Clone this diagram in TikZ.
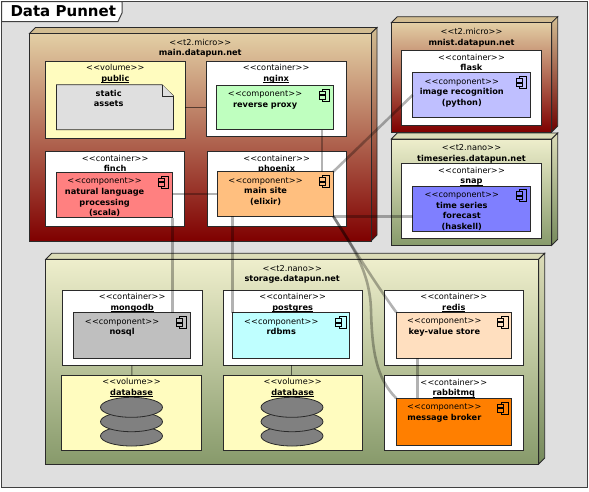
\documentclass[tikz,border=0pt]{standalone}
\usepackage{fontspec}
\setmainfont{DejaVu Sans}
\usetikzlibrary{calc,shapes.geometric}
\definecolor{bgc}{HTML}{DFDFDF}
\definecolor{edgec}{HTML}{2A2A2A}
\definecolor{tanA}{HTML}{E3CFA5}
\definecolor{tanB}{HTML}{D2BD92}
\definecolor{redB}{HTML}{7F0000}
\definecolor{redC}{HTML}{6E0000}
\definecolor{oliveA}{HTML}{EEEECC}
\definecolor{oliveB}{HTML}{879A6B}
\definecolor{oliveC}{HTML}{DCDCB8}
\definecolor{oliveD}{HTML}{768A5C}
\newcommand{\stereo}[1]{<\kern0.2pt<#1>\kern0.2pt>}
\newcommand{\ubf}[1]{\sbox0{\textbf{#1}}\rlap{\rule[-1.5pt]{\wd0}{0.8pt}}\box0}
\tikzset{
  x=1pt,y=-1pt,
  boxline/.style={draw=edgec,line width=0.8pt},
  box/.style={boxline,anchor=north west,inner sep=0pt,outer sep=0pt},
  whitebox/.style={box,fill=white},
  volbox/.style={box,fill=yellow!25!white},
  lab/.style={anchor=north,inner sep=0pt,outer sep=0pt,align=center,text=black,font=\fontsize{8.2}{10.6}\selectfont},
  maintanfront/.style={top color=tanA,bottom color=redB},
  maintanside/.style={top color=tanB,bottom color=redC},
  maintantop/.style={fill=tanB},
  olivefront/.style={top color=oliveA,bottom color=oliveB},
  oliveside/.style={top color=oliveC,bottom color=oliveD},
  olivetop/.style={fill=oliveC},
  conn/.style={draw=black,opacity=0.3,line width=2.6pt},
  thinconn/.style={draw=black,opacity=0.55,line width=1pt},
  disk/.style={boxline,fill=black!50!white,ellipse,inner sep=0pt,outer sep=0pt,minimum width=62pt,minimum height=20pt},
}
\newcommand{\plainbox}[6]{\node[#6,minimum width={(#4-#2)*1pt},minimum height={(#5-#3)*1pt}] (#1) at (#2,#3) {};}
\newcommand{\solidnode}[6]{%
  \path[boxline,#6top] (#2,#3) -- (#2+6,#3-6) -- (#4+6,#3-6) -- (#4,#3) -- cycle;
  \path[boxline,#6side] (#4,#3) -- (#4+6,#3-6) -- (#4+6,#5-6) -- (#4,#5) -- cycle;
  \node[box,#6front,minimum width={(#4-#2)*1pt},minimum height={(#5-#3)*1pt}] (#1) at (#2,#3) {};}
\newcommand{\lbl}[5]{\node[lab] (#1) at ([xshift=#4pt,yshift=-#3pt]#2.north) {\strut #5};}
\newcommand{\icon}[2]{%
  \begin{scope}[shift={(#1.north east)}]
  \draw[draw=black,line width=0.7pt,fill=#2] (-10.6,3.6) rectangle (-3.6,15.6);
  \draw[draw=black,line width=0.7pt,fill=#2] (-14,5.8) rectangle (-8.3,9.2);
  \draw[draw=black,line width=0.7pt,fill=#2] (-14,10.2) rectangle (-8.3,13.6);
  \end{scope}}
\newcommand{\component}[7]{%
  \definecolor{c#1}{HTML}{#6}%
  \plainbox{#1}{#2}{#3}{#4}{#5}{box,fill=c#1}
  \icon{#1}{c#1}
  \lbl{#1-t}{#1}{4.1}{-9.7}{\stereo{component}\\#7}}
\newcommand{\cont}[6]{%
  \plainbox{#1}{#2}{#3}{#4}{#5}{whitebox}
  \lbl{#1-t}{#1}{2.2}{0}{\stereo{container}\\\ubf{#6}}}
\newcommand{\vol}[6]{%
  \plainbox{#1}{#2}{#3}{#4}{#5}{volbox}
  \lbl{#1-t}{#1}{2.2}{0}{\stereo{volume}\\\ubf{#6}}}
\begin{document}
\begin{tikzpicture}
\useasboundingbox (0,0) rectangle (589,491);
\fill[white] (0,0) rectangle (589,491);
\draw[draw=black!75!white,line width=1pt,fill=bgc] (1.5,1.5) rectangle (587,487);
\draw[draw=black!75!white,line width=1pt,fill=white] (1.5,1.5) -- (122,1.5) -- (122,13) -- (118,21.5) -- (1.5,21.5) -- cycle;
\node[anchor=base west,inner sep=0pt,font=\fontsize{15}{16}\selectfont\bfseries] (title) at (10.3,16.5) {Data Punnet};

% main
\solidnode{main}{29.5}{33.5}{371}{241}{maintan}
\lbl{main-t}{main}{4.4}{0}{\stereo{t2.micro}\\\textbf{main.datapun.net}}
\vol{public}{45.7}{61}{185}{138.7}{public}
\plainbox{file}{56.5}{84.7}{173.5}{129.7}{anchor=north west,inner sep=0pt,outer sep=0pt}
\path[boxline,fill=bgc] (file.north west) -- (162,84.7) -- (173.5,96) -- (file.south east) -- (file.south west) -- cycle;
\path[boxline,fill=bgc] (162,84.7) -- (162,96) -- (173.5,96);
\node[lab] (file-t) at (108.7,88.6) {\strut\textbf{static}\\\textbf{assets}};
\cont{nginx}{206.3}{61}{346}{136.5}{nginx}
\component{proxy}{216.3}{85.3}{333.3}{129.7}{BFFFBF}{\textbf{reverse proxy}}
\cont{finch}{45.7}{151.7}{184.7}{226.3}{finch}
\component{nlp}{56.3}{172.3}{172.3}{217.7}{FF8080}{\textbf{natural language}\\\textbf{processing}\\\textbf{(scala)}}
\cont{phoenix}{207.3}{151.7}{346}{226.3}{phoenix}
\component{site}{217.3}{171.7}{333.3}{216.3}{FFBF7F}{\textbf{main site}\\\textbf{(elixir)}}

% mnist
\solidnode{mnist}{391.3}{22.7}{551.7}{132}{maintan}
\lbl{mnist-t}{mnist}{4.4}{0}{\stereo{t2.micro}\\\textbf{mnist.datapun.net}}
\cont{flask}{401.7}{50.7}{541.3}{125.3}{flask}
\component{imgrec}{412.7}{72.7}{530.3}{117.3}{BFBFFF}{\textbf{image recognition}\\\textbf{(python)}}

% timeseries
\solidnode{ts}{391.3}{139}{551.7}{245.3}{olive}
\lbl{ts-t}{ts}{4.4}{0}{\stereo{t2.nano}\\\textbf{timeseries.datapun.net}}
\cont{snap}{401.7}{163.7}{541.3}{238.3}{snap}
\component{forecast}{412.7}{186}{530.3}{231.7}{7F7FFF}{\textbf{time series}\\\textbf{forecast}\\\textbf{(haskell)}}

% storage
\solidnode{storage}{45.7}{259.3}{538.7}{464}{olive}
\lbl{storage-t}{storage}{4.4}{0}{\stereo{t2.nano}\\\textbf{storage.datapun.net}}
\cont{mongodb}{62.3}{290.3}{202}{365.3}{mongodb}
\component{nosql}{73.3}{312.7}{190.3}{358.3}{BFBFBF}{\textbf{nosql}}
\vol{dbA}{61.7}{375.3}{201.3}{450.7}{database}
\node[disk] (dbA3) at (131.5,436) {};
\node[disk] (dbA2) at (131.5,421.7) {};
\node[disk] (dbA1) at (131.5,407.3) {};
\cont{postgres}{223}{290.3}{362.3}{365.3}{postgres}
\component{rdbms}{232.3}{312.7}{349.7}{358.3}{BFFFFF}{\textbf{rdbms}}
\vol{dbB}{223}{375.3}{362.3}{450.7}{database}
\node[disk] (dbB3) at (292,436) {};
\node[disk] (dbB2) at (292,421.7) {};
\node[disk] (dbB1) at (292,407.3) {};
\cont{redis}{384.3}{290}{523.3}{365.3}{redis}
\component{kv}{396.3}{312.3}{511.7}{358.3}{FFDFBF}{\textbf{key-value store}}
\cont{rabbitmq}{384.3}{375.7}{523.3}{450.7}{rabbitmq}
\component{broker}{396.3}{398.3}{511.7}{445}{FF7F00}{\textbf{message broker}}

% connectors
\draw[thinconn] (public.east |- file.east) -- (nginx.west |- file.east);
\draw[thinconn] ([xshift=-.3pt]mongodb.south) -- ([xshift=.3pt]dbA.north);
\draw[thinconn] ([xshift=-1.3pt]postgres.south) -- ([xshift=-1.3pt]dbB.north);
\draw[conn] ([xshift=105.7pt]proxy.south west) -- ([xshift=104.7pt]site.north west);
\draw[conn] (site.north east) -- (imgrec.west);
\draw[conn] (nlp.east |- site.west) -- (site.west);
\draw[conn] (site.south east) -- (site.south east -| forecast.west);
\draw[conn] ([xshift=116.4pt]nlp.south west) -- ([xshift=99.4pt]nosql.north west);
\draw[conn] ([xshift=15pt]site.south west) -- (rdbms.north west);
\draw[conn] (site.south east) .. controls (350,243) and (375,283) .. (kv.north west);
\draw[conn] (site.south east) .. controls (350,243) and (370,270) .. (371,310) .. controls (372,350) and (376,378) .. (broker.north west);
\draw[conn] ([xshift=21pt]kv.south west) -- ([xshift=21pt]broker.north west);
\end{tikzpicture}
\end{document}
